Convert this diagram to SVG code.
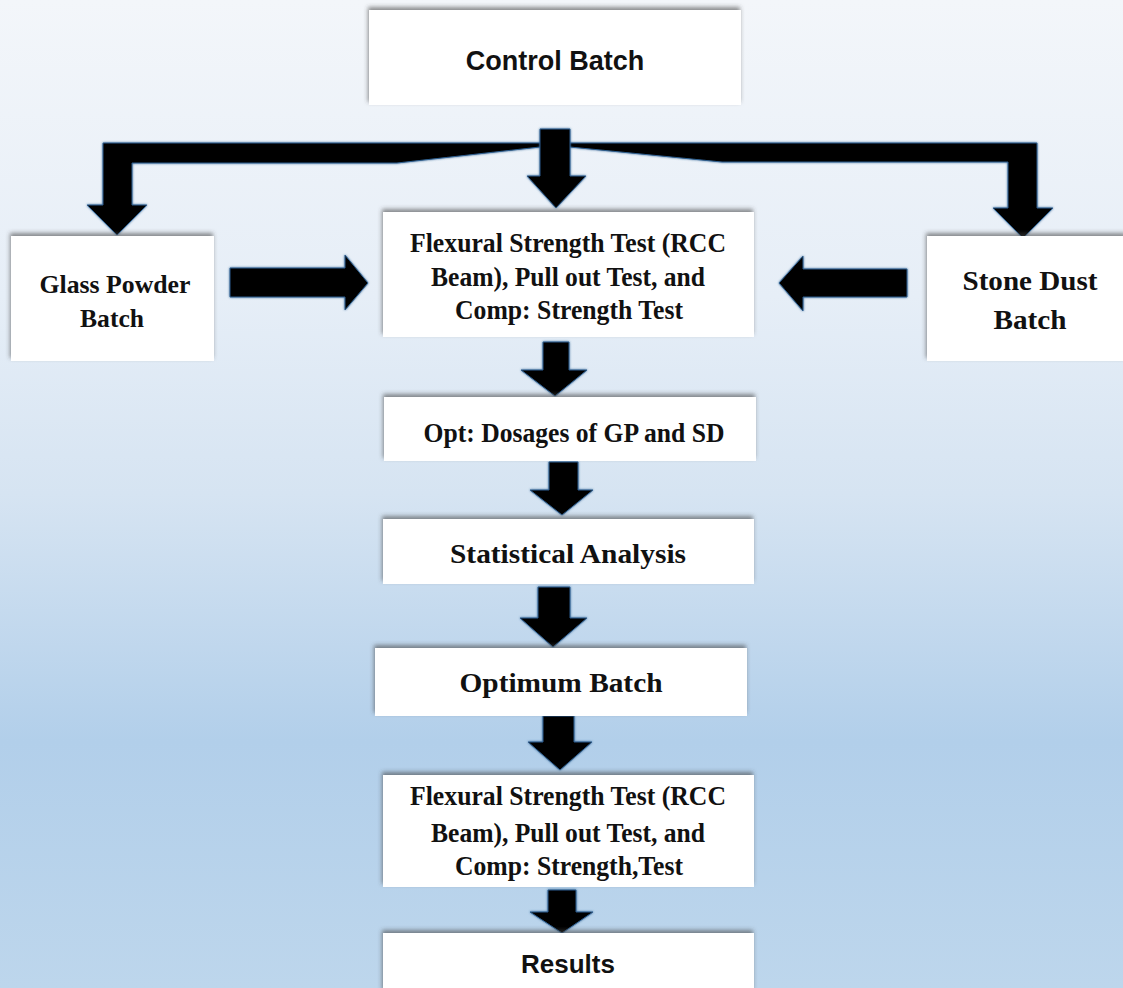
<svg xmlns="http://www.w3.org/2000/svg" width="1123" height="988" viewBox="0 0 1123 988">
<defs>
<linearGradient id="bg" x1="0" y1="0" x2="0" y2="1">
<stop offset="0" stop-color="#f3f6fa"/>
<stop offset="0.3" stop-color="#e6eef7"/>
<stop offset="0.5" stop-color="#d6e4f2"/>
<stop offset="0.75" stop-color="#b2cfea"/>
<stop offset="1" stop-color="#bdd6ec"/>
</linearGradient>
<filter id="sh" x="-10%" y="-20%" width="120%" height="140%">
<feDropShadow dx="-1" dy="-3" stdDeviation="2" flood-color="#444" flood-opacity="0.6"/>
</filter>
<filter id="ash" x="-20%" y="-20%" width="140%" height="140%">
<feDropShadow dx="0" dy="0" stdDeviation="1.2" flood-color="#2d5f90" flood-opacity="0.9"/>
</filter>
</defs>
<style>
.box{fill:#ffffff;filter:url(#sh)}
.arr{fill:#000000;stroke:#2f5f8f;stroke-width:1;stroke-linejoin:miter;filter:url(#ash)}
.sans{font-family:"Liberation Sans",Arial,sans-serif;font-weight:bold;fill:#111;text-anchor:middle}
.serif{font-family:"Liberation Serif","Times New Roman",serif;font-weight:bold;fill:#111;text-anchor:middle}
</style>
<rect x="0" y="0" width="1123" height="988" fill="url(#bg)"/>

<g id="connectors">
<polygon class="arr" points="103,143 545,143 540,147 397,163 132,163 132,205 147,205 117,235 87,205 103,205"/>
<polygon class="arr" points="565,143 1037,143 1037,208 1053,208 1023,238 993,208 1008,208 1008,162 722,162 570,147"/>
<polygon class="arr" points="540,129 570,129 570,176 586,176 556,208 527,176 540,176"/>
<polygon class="arr" points="230,268 345,268 345,255 368,283 345,310 345,297 230,297"/>
<polygon class="arr" points="907,269 803,269 803,256 779,283 803,311 803,297 907,297"/>
<polygon class="arr" points="543,342 569,342 569,370 587,370 555,396 521,370 543,370"/>
<polygon class="arr" points="549,462 578,462 578,490 593,490 562,515 530,490 549,490"/>
<polygon class="arr" points="538,587 570,587 570,618 587,618 553,647 520,618 538,618"/>
<polygon class="arr" points="543,716 574,716 574,742 592,742 560,770 528,742 543,742"/>
<polygon class="arr" points="548,890 576,890 576,912 593,912 562,933 530,912 548,912"/>
</g>

<g id="control-batch">
<rect class="box" x="369" y="10" width="372" height="95"/>
<text class="sans" x="555" y="70" font-size="27">Control Batch</text>
</g>

<g id="glass-powder-batch">
<rect class="box" x="11" y="236" width="203" height="125"/>
<text class="serif" x="115" y="293" font-size="25" textLength="151" lengthAdjust="spacingAndGlyphs">Glass Powder</text>
<text class="serif" x="112" y="327" font-size="25" textLength="64" lengthAdjust="spacingAndGlyphs">Batch</text>
</g>

<g id="stone-dust-batch">
<rect class="box" x="927" y="236" width="200" height="125"/>
<text class="serif" x="1030" y="290" font-size="27" textLength="135" lengthAdjust="spacingAndGlyphs">Stone Dust</text>
<text class="serif" x="1030" y="329" font-size="27" textLength="73" lengthAdjust="spacingAndGlyphs">Batch</text>
</g>

<g id="tests-1">
<rect class="box" x="383" y="212" width="371" height="125"/>
<text class="serif" x="568" y="252" font-size="27" textLength="316" lengthAdjust="spacingAndGlyphs">Flexural Strength Test (RCC</text>
<text class="serif" x="568" y="286" font-size="27" textLength="274" lengthAdjust="spacingAndGlyphs">Beam), Pull out Test, and</text>
<text class="serif" x="569" y="319" font-size="27" textLength="228" lengthAdjust="spacingAndGlyphs">Comp: Strength Test</text>
</g>

<g id="opt-dosages">
<rect class="box" x="384" y="397" width="372" height="64"/>
<text class="serif" x="574" y="442" font-size="27" textLength="301" lengthAdjust="spacingAndGlyphs">Opt: Dosages of GP and SD</text>
</g>

<g id="statistical-analysis">
<rect class="box" x="383" y="519" width="371" height="65"/>
<text class="serif" x="568" y="563" font-size="27" textLength="236" lengthAdjust="spacingAndGlyphs">Statistical Analysis</text>
</g>

<g id="optimum-batch">
<rect class="box" x="375" y="648" width="372" height="68"/>
<text class="serif" x="561" y="692" font-size="27" textLength="203" lengthAdjust="spacingAndGlyphs">Optimum Batch</text>
</g>

<g id="tests-2">
<rect class="box" x="383" y="775" width="371" height="112"/>
<text class="serif" x="568" y="805" font-size="27" textLength="316" lengthAdjust="spacingAndGlyphs">Flexural Strength Test (RCC</text>
<text class="serif" x="568" y="842" font-size="27" textLength="274" lengthAdjust="spacingAndGlyphs">Beam), Pull out Test, and</text>
<text class="serif" x="569" y="875" font-size="27" textLength="228" lengthAdjust="spacingAndGlyphs">Comp: Strength,Test</text>
</g>

<g id="results">
<rect class="box" x="383" y="933" width="371" height="60"/>
<text class="sans" x="568" y="973" font-size="26">Results</text>
</g>
</svg>
